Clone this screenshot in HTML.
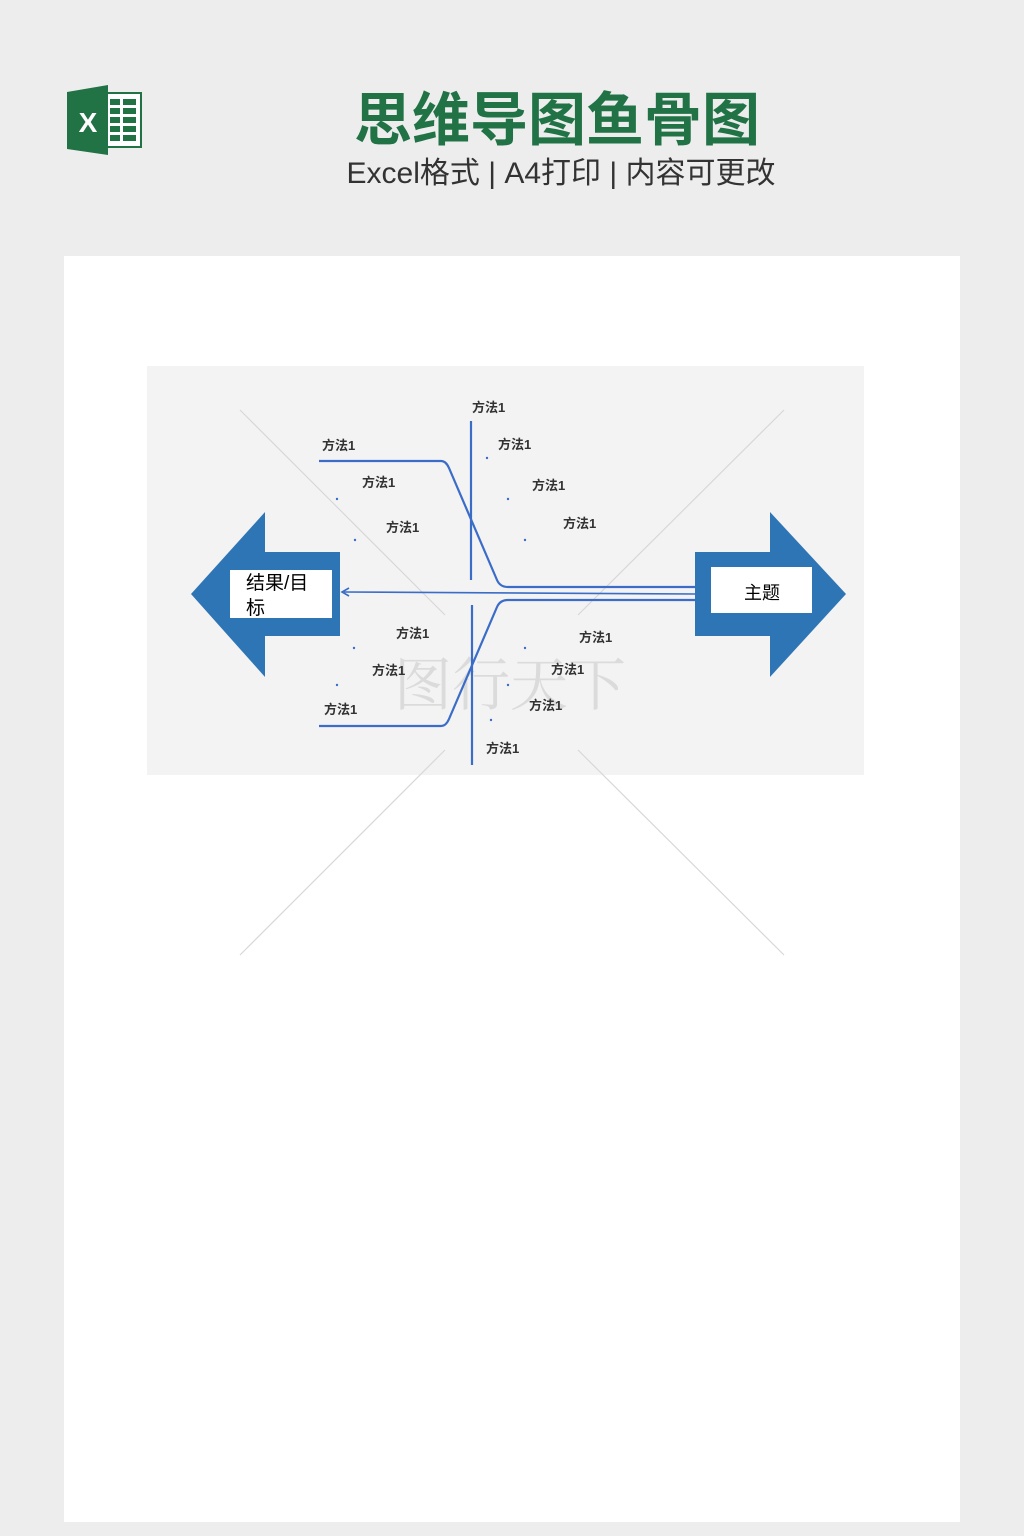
<!DOCTYPE html>
<html><head><meta charset="utf-8"><style>
html,body{margin:0;padding:0;width:1024px;height:1536px;background:#ededed;overflow:hidden}
body{position:relative;font-family:"Liberation Sans","Noto Sans CJK SC",sans-serif}
</style></head><body>
<svg width="1024" height="1536" viewBox="0 0 1024 1536" xmlns="http://www.w3.org/2000/svg" style="position:absolute;left:0;top:0">
<rect x="0" y="0" width="1024" height="1536" fill="#ededed"/>
<rect x="98" y="93" width="43" height="54" fill="#fff" stroke="#217346" stroke-width="2"/>
<g fill="#217346">
<rect x="110" y="99" width="10" height="6"/><rect x="123" y="99" width="13" height="6"/>
<rect x="110" y="108" width="10" height="6"/><rect x="123" y="108" width="13" height="6"/>
<rect x="110" y="117" width="10" height="6"/><rect x="123" y="117" width="13" height="6"/>
<rect x="110" y="126" width="10" height="6"/><rect x="123" y="126" width="13" height="6"/>
<rect x="110" y="135" width="10" height="6"/><rect x="123" y="135" width="13" height="6"/>
</g>
<polygon points="67,92 108,85 108,155 67,149" fill="#217346"/>
<text x="88" y="132" font-size="28" font-weight="bold" fill="#fff" text-anchor="middle" font-family="Liberation Sans,sans-serif">X</text>
<text x="557" y="140" font-size="58" font-weight="bold" fill="#217346" text-anchor="middle" font-family="Noto Sans CJK SC,sans-serif">思维导图鱼骨图</text>
<text x="561" y="183" font-size="30" fill="#333" text-anchor="middle" font-family="Liberation Sans,Noto Sans CJK SC,sans-serif">Excel格式 | A4打印 | 内容可更改</text>
<rect x="64" y="256" width="896" height="1266" fill="#fff"/>
<rect x="147" y="366" width="717" height="409" fill="#f3f3f3"/>
<g stroke="#d8d8d8" stroke-width="1.2">
<line x1="240" y1="410" x2="445" y2="615"/><line x1="784" y1="410" x2="578" y2="615"/>
<line x1="240" y1="955" x2="445" y2="750"/><line x1="784" y1="955" x2="578" y2="750"/>
</g>
<text x="510" y="705" font-size="58" fill="#d2d2d2" text-anchor="middle" font-family="Noto Serif CJK SC,serif" opacity="0.7">图行天下</text>
<polygon points="191,594 265,512 265,552 340,552 340,636 265,636 265,677" fill="#2e75b6"/>
<rect x="230" y="570" width="102" height="48" fill="#fff"/>
<text x="246" y="589" font-size="19" fill="#000">结果/目</text>
<text x="246" y="614" font-size="19" fill="#000">标</text>
<polygon points="846,594 770,512 770,552 695,552 695,636 770,636 770,677" fill="#2e75b6"/>
<rect x="711" y="567" width="101" height="46" fill="#fff"/>
<text x="762" y="599" font-size="18" fill="#000" text-anchor="middle">主题</text>
<g stroke="#3a6cc8" stroke-width="2.2" fill="none">
<line x1="471" y1="421" x2="471" y2="580"/>
<line x1="472" y1="605" x2="472" y2="765"/>
<path d="M319,461 H441 Q446,461 449,468 L497,580 Q500,587 508,587 H695"/>
<path d="M319,726 H441 Q446,726 449,719 L497,607 Q500,600 508,600 H695"/>
<line x1="695" y1="594" x2="344" y2="592" stroke-width="1.6"/>
<path d="M349,588 L342,592 L349,596" stroke-width="1.6"/>
</g>
<g fill="#3a6cc8">
<circle cx="487" cy="458" r="1.2"/><circle cx="337" cy="499" r="1.2"/><circle cx="508" cy="499" r="1.2"/>
<circle cx="355" cy="540" r="1.2"/><circle cx="525" cy="540" r="1.2"/><circle cx="354" cy="648" r="1.2"/>
<circle cx="525" cy="648" r="1.2"/><circle cx="337" cy="685" r="1.2"/><circle cx="508" cy="685" r="1.2"/>
<circle cx="491" cy="720" r="1.2"/>
</g>
<g font-size="13" font-weight="bold" fill="#333">
<text x="472" y="412">方法1</text><text x="322" y="450">方法1</text><text x="498" y="449">方法1</text>
<text x="362" y="487">方法1</text><text x="532" y="490">方法1</text><text x="386" y="532">方法1</text>
<text x="563" y="528">方法1</text><text x="396" y="638">方法1</text><text x="579" y="642">方法1</text>
<text x="372" y="675">方法1</text><text x="551" y="674">方法1</text><text x="324" y="714">方法1</text>
<text x="529" y="710">方法1</text><text x="486" y="753">方法1</text>
</g>
</svg>
</body></html>
